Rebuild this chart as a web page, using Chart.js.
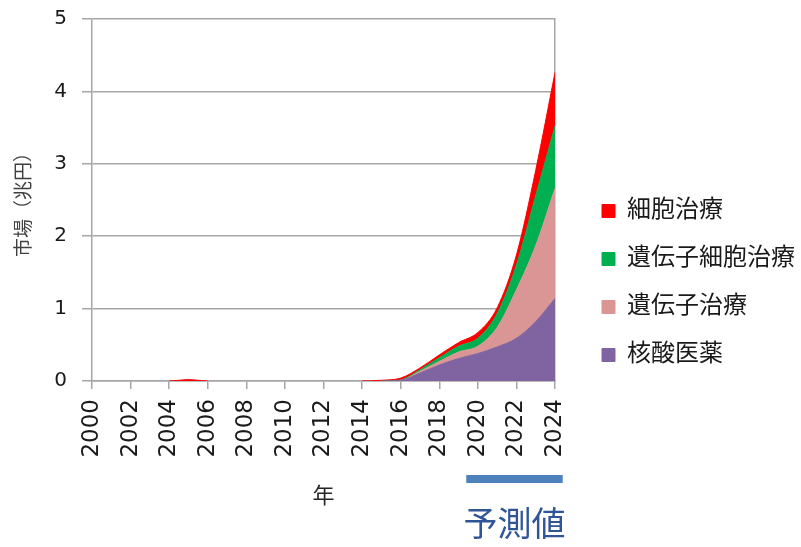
<!DOCTYPE html>
<html>
<head>
<meta charset="utf-8">
<script src="https://cdn.jsdelivr.net/npm/chart.js@4/dist/chart.umd.min.js"></script>
<style>
  html, body { margin: 0; padding: 0; background: #fff; }
  canvas { display: block; }
</style>
</head>
<body>
<canvas id="marketChart" width="801" height="547"></canvas>
<script>
const years = ['2000','2001','2002','2003','2004','2005','2006','2007','2008','2009','2010','2011','2012',
  '2013','2014','2015','2016','2017','2018','2019','2020','2021','2022','2023','2024'];

// 兆円
const kakusan      = [0,0,0,0,0,0,0,0,0,0,0,0,0,0,0,0, 0.01, 0.11, 0.22, 0.31, 0.38, 0.47, 0.59, 0.82, 1.14];
const idenshi      = [0,0,0,0,0,0,0,0,0,0,0,0,0,0,0,0, 0, 0.025, 0.05, 0.09, 0.10, 0.27, 0.67, 1.05, 1.52];
const idenshiSaibo = [0,0,0,0,0,0,0,0,0,0,0,0,0,0,0,0, 0.005, 0.02, 0.05, 0.08, 0.11, 0.19, 0.34, 0.69, 0.86];
const saibo        = [0,0,0,0,0,0.02,0,0,0,0,0,0,0,0,0,0.01, 0.025, 0.025, 0.04, 0.05, 0.08, 0.08, 0.14, 0.35, 0.74];

const yTicks = [0, 1, 2, 3, 4, 5];
const forecastYears = ['2020', '2024'];

const seriesNames = ['核酸医薬', '遺伝子治療', '遺伝子細胞治療', '細胞治療'];
const seriesColors = ['#8064A2', '#D99694', '#00B050', '#FF0000'];
const seriesData = [kakusan, idenshi, idenshiSaibo, saibo];

const jpFont = '"DejaVu Sans", "Noto Sans CJK JP", sans-serif';
const cjkFont = '"Noto Sans CJK JP", sans-serif';
const gridGray = '#A6A6A6';

// 予測値の帯とラベル
const forecastNote = {
  id: 'forecastNote',
  afterDraw(chart) {
    const { ctx, chartArea } = chart;
    const x = chart.scales.x;
    const i0 = years.indexOf(forecastYears[0]) - 0.6;
    const i1 = years.indexOf(forecastYears[1]) + 0.4;
    const left = x.getPixelForValue(i0);
    const right = x.getPixelForValue(i1);
    ctx.save();
    ctx.fillStyle = '#4F81BD';
    ctx.fillRect(left, chartArea.bottom + 94, right - left, 8);
    ctx.fillStyle = '#2F5597';
    ctx.font = '34px ' + cjkFont;
    ctx.textAlign = 'center';
    ctx.textBaseline = 'middle';
    ctx.fillText('予測値', (left + right) / 2, chartArea.bottom + 142);
    ctx.restore();
  }
};

const ctx = document.getElementById('marketChart').getContext('2d');

new Chart(ctx, {
  type: 'line',
  data: {
    labels: years,
    datasets: seriesData.map((d, i) => ({
      label: seriesNames[i],
      data: d,
      backgroundColor: seriesColors[i],
      borderColor: seriesColors[i],
      borderWidth: 1,
      pointRadius: 0,
      cubicInterpolationMode: 'monotone',
      fill: i === 0 ? 'origin' : '-1',
      segment: {
        borderColor: c => (c.p0.parsed.y === 0 && c.p1.parsed.y === 0) ? 'transparent' : seriesColors[i]
      }
    }))
  },
  options: {
    responsive: false,
    animation: false,
    layout: { padding: { top: 19, right: -4, bottom: 0, left: 0 } },
    plugins: {
      tooltip: { enabled: false },
      legend: {
        position: 'right',
        reverse: true,
        maxWidth: 260,
        labels: {
          boxWidth: 13,
          boxHeight: 13,
          padding: 24,
          color: '#1a1a1a',
          font: { family: jpFont, size: 24 }
        }
      }
    },
    scales: {
      x: {
        grid: { display: true, drawOnChartArea: false, drawTicks: true, tickLength: 8, color: gridGray, lineWidth: 1.5 },
        border: { color: gridGray, width: 1.5 },
        ticks: {
          autoSkip: false,
          minRotation: 90,
          maxRotation: 90,
          padding: 10,
          color: '#1a1a1a',
          font: { family: jpFont, size: 23 }
        },
        afterBuildTicks: s => { s.ticks = s.ticks.filter(t => t.value % 2 === 0); },
        afterFit: s => { s.height = 166; },
        title: {
          display: true,
          text: '年',
          color: '#262626',
          font: { family: cjkFont, size: 22 },
          padding: { top: 4, bottom: 39 }
        }
      },
      y: {
        stacked: true,
        min: 0,
        max: 5,
        grid: { color: gridGray, lineWidth: 1.5, tickLength: 10 },
        border: { color: gridGray, width: 1.5 },
        afterBuildTicks: s => { s.ticks = yTicks.map(v => ({ value: v })); },
        ticks: {
          padding: 15,
          color: '#1a1a1a',
          font: { family: jpFont, size: 20 }
        },
        afterFit: s => { s.width = 92; s.paddingTop = 0; },
        title: {
          display: true,
          text: '市場（兆円）',
          color: '#404040',
          font: { family: cjkFont, size: 19 },
          padding: { top: 11, bottom: 0 }
        }
      },
      y2: {
        position: 'right',
        min: 0,
        max: 5,
        grid: { display: false, drawTicks: false },
        border: { color: gridGray, width: 1.5 },
        ticks: { display: false },
        afterFit: s => { s.width = 23; }
      }
    }
  },
  plugins: [forecastNote]
});
</script>
</body>
</html>
